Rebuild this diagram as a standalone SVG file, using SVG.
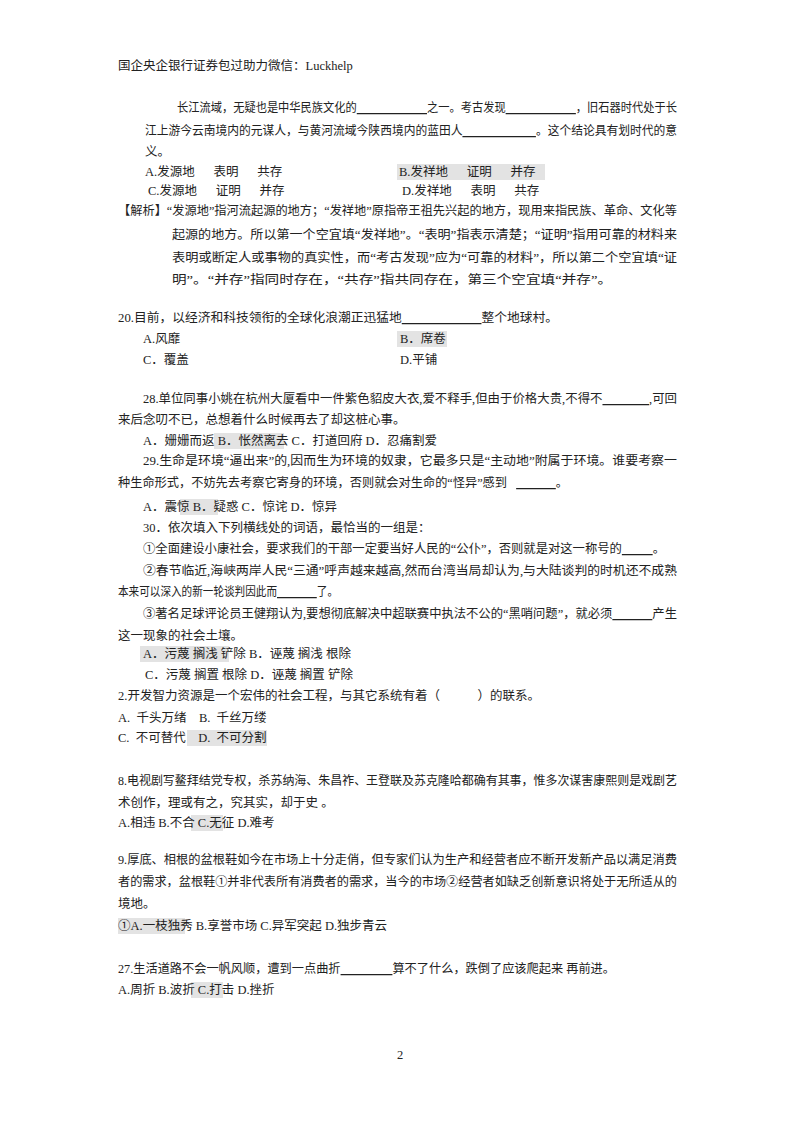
<svg xmlns="http://www.w3.org/2000/svg" width="800" height="1132" viewBox="0 0 800 1132" xml:space="preserve">
<style>
text{font-family:"Liberation Serif","Noto Sans CJK SC",serif;font-size:12.5px;fill:#222;white-space:pre}
.hl{fill:#e3e3e3}
</style>
<rect width="800" height="1132" fill="#fff"/>
<g id="highlights">
<rect class="hl" x="397" y="164" width="148" height="16"/>
<rect class="hl" x="397" y="331" width="50" height="16"/>
<rect class="hl" x="214" y="433" width="70" height="16"/>
<rect class="hl" x="180" y="499" width="38" height="16"/>
<rect class="hl" x="140" y="646" width="89" height="16"/>
<rect class="hl" x="187" y="730" width="80" height="16"/>
<rect class="hl" x="191" y="815" width="32" height="16"/>
<rect class="hl" x="118" y="918" width="67" height="16"/>
<rect class="hl" x="191" y="982" width="32" height="16"/>
</g>
<g id="text">
<text x="118" y="70">国企央企银行证券包过助力微信：Luckhelp</text>
<text x="177" y="112" textLength="500" lengthAdjust="spacingAndGlyphs">长江流域，无疑也是中华民族文化的<tspan text-decoration="underline">                         </tspan>之一。考古发现<tspan text-decoration="underline">                         </tspan>，旧石器时代处于长</text>
<text x="145" y="135" textLength="532" lengthAdjust="spacingAndGlyphs">江上游今云南境内的元谋人，与黄河流域今陕西境内的蓝田人<tspan text-decoration="underline">                         </tspan>。这个结论具有划时代的意</text>
<text x="145" y="156">义。</text>
<text x="145" y="176">A.发源地      表明      共存</text>
<text x="399" y="176">B.发祥地      证明      并存</text>
<text x="148" y="195">C.发源地      证明      并存</text>
<text x="402" y="195">D.发祥地      表明      共存</text>
<text x="118" y="215" textLength="559" lengthAdjust="spacingAndGlyphs">【解析】“发源地”指河流起源的地方；“发祥地”原指帝王祖先兴起的地方，现用来指民族、革命、文化等</text>
<text x="172" y="239" textLength="505" lengthAdjust="spacingAndGlyphs">起源的地方。所以第一个空宜填“发祥地”。“表明”指表示清楚；“证明”指用可靠的材料来</text>
<text x="172" y="262" textLength="505" lengthAdjust="spacingAndGlyphs">表明或断定人或事物的真实性，而“考古发现”应为“可靠的材料”，所以第二个空宜填“证</text>
<text x="172" y="284" textLength="440" lengthAdjust="spacingAndGlyphs">明”。“并存”指同时存在，“共存”指共同存在，第三个空宜填“并存”。</text>
<text x="118" y="322" textLength="440" lengthAdjust="spacingAndGlyphs">20.目前，以经济和科技领衔的全球化浪潮正迅猛地<tspan text-decoration="underline">                         </tspan>整个地球村。</text>
<text x="143" y="343">A.风靡</text>
<text x="400" y="343">B．席卷</text>
<text x="143" y="364">C．覆盖</text>
<text x="400" y="364">D.平铺</text>
<text x="143" y="403" textLength="534" lengthAdjust="spacingAndGlyphs">28.单位同事小姚在杭州大厦看中一件紫色貂皮大衣,爱不释手,但由于价格大贵,不得不<tspan text-decoration="underline">               </tspan>,可回</text>
<text x="118" y="424">来后念叨不已，总想着什么时候再去了却这桩心事。</text>
<text x="143" y="445">A．姗姗而返 B．怅然离去 C．打道回府 D．忍痛割爱</text>
<text x="143" y="465" textLength="534" lengthAdjust="spacingAndGlyphs">29.生命是环境“逼出来”的,因而生为环境的奴隶，它最多只是“主动地”附属于环境。谁要考察一</text>
<text x="118" y="487" textLength="450" lengthAdjust="spacingAndGlyphs">种生命形式，不妨先去考察它寄身的环境，否则就会对生命的“怪异”感到   <tspan text-decoration="underline">             </tspan>。</text>
<text x="143" y="511">A．震惊 B．疑惑 C．惊诧 D．惊异</text>
<text x="143" y="532">30．依次填入下列横线处的词语，最恰当的一组是：</text>
<text x="143" y="553" textLength="522" lengthAdjust="spacingAndGlyphs">①全面建设小康社会，要求我们的干部一定要当好人民的“公仆”，否则就是对这一称号的<tspan text-decoration="underline">          </tspan>。</text>
<text x="143" y="575" textLength="534" lengthAdjust="spacingAndGlyphs">②春节临近,海峡两岸人民“三通”呼声越来越高,然而台湾当局却认为,与大陆谈判的时机还不成熟</text>
<text x="118" y="596" textLength="220" lengthAdjust="spacingAndGlyphs">本来可以深入的新一轮谈判因此而<tspan text-decoration="underline">               </tspan>了。</text>
<text x="143" y="618" textLength="534" lengthAdjust="spacingAndGlyphs">③著名足球评论员王健翔认为,要想彻底解决中超联赛中执法不公的“黑哨问题”，就必须<tspan text-decoration="underline">             </tspan>产生</text>
<text x="118" y="640">这一现象的社会土壤。</text>
<text x="143" y="658">A．污蔑 搁浅 铲除 B．诬蔑 搁浅 根除</text>
<text x="145" y="679">C．污蔑 搁置 根除 D．诬蔑 搁置 铲除</text>
<text x="118" y="700">2.开发智力资源是一个宏伟的社会工程，与其它系统有着（            ）的联系。</text>
<text x="118" y="722">A.  千头万绪    B.  千丝万缕</text>
<text x="118" y="742">C.  不可替代    D.  不可分割</text>
<text x="118" y="785" textLength="559" lengthAdjust="spacingAndGlyphs">8.电视剧写鳌拜结党专权，杀苏纳海、朱昌祚、王登联及苏克隆哈都确有其事，惟多次谋害康熙则是戏剧艺</text>
<text x="118" y="807">术创作，理或有之，究其实，却于史 。</text>
<text x="118" y="827">A.相违 B.不合 C.无征 D.难考</text>
<text x="118" y="864" textLength="559" lengthAdjust="spacingAndGlyphs">9.厚底、相根的盆根鞋如今在市场上十分走俏，但专家们认为生产和经营者应不断开发新产品以满足消费</text>
<text x="118" y="886" textLength="559" lengthAdjust="spacingAndGlyphs">者的需求，盆根鞋①并非代表所有消费者的需求，当今的市场②经营者如缺乏创新意识将处于无所适从的</text>
<text x="118" y="908">境地。</text>
<text x="118" y="930">①A.一枝独秀 B.享誉市场 C.异军突起 D.独步青云</text>
<text x="118" y="973" textLength="497" lengthAdjust="spacingAndGlyphs">27.生活道路不会一帆风顺，遭到一点曲折<tspan text-decoration="underline">                 </tspan>算不了什么，跌倒了应该爬起来 再前进。</text>
<text x="118" y="994">A.周折 B.波折 C.打击 D.挫折</text>
<text x="400" y="1059" text-anchor="middle">2</text>
</g>
</svg>
